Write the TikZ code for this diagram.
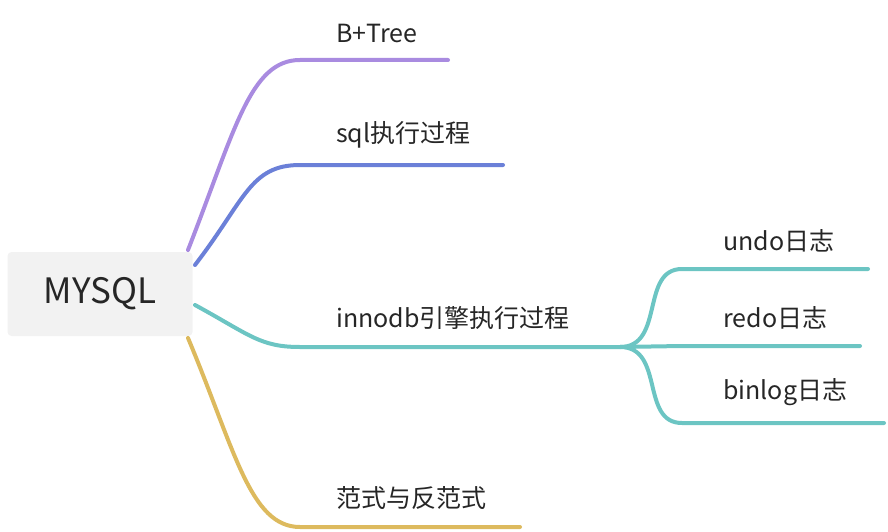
\documentclass[tikz,border=0pt]{standalone}
\usepackage{fontspec}
\setmainfont{Noto Sans CJK SC}
\usetikzlibrary{positioning}
\definecolor{cPurple}{HTML}{A98BE0}
\definecolor{cBlue}{HTML}{6B80D8}
\definecolor{cTeal}{HTML}{6CC5C3}
\definecolor{cGold}{HTML}{DDBA5E}
\tikzset{
  branch/.style={line width=4pt, line cap=round},
  lbl/.style={font=\fontsize{25}{30}\selectfont, text=black!85, anchor=south west, inner sep=0pt}
}
\begin{document}
\begin{tikzpicture}[x=1pt,y=-1pt]
  \useasboundingbox (0,0) rectangle (888,532);
  % root
  \node[fill=black!5, rounded corners=4pt, minimum width=185pt, minimum height=84pt,
        font=\fontsize{35}{40}\selectfont, text=black!85] (root) at (100,294) {MYSQL};
  % branch ends
  \coordinate (p0) at (188,250); \coordinate (p1) at (300,60);  \coordinate (p2) at (448,60);
  \coordinate (b0) at (195,265); \coordinate (b1) at (300,165); \coordinate (b2) at (503,165);
  \coordinate (t0) at (195,305); \coordinate (t1) at (300,347); \coordinate (t2) at (620,347);
  \coordinate (g0) at (188,338); \coordinate (g1) at (300,527); \coordinate (g2) at (520,527);
  \coordinate (u1) at (682,269); \coordinate (u2) at (868,269);
  \coordinate (r1) at (682,346); \coordinate (r2) at (860,346);
  \coordinate (n1) at (682,423); \coordinate (n2) at (884,423);
  % labels
  \node[lbl] (btree) at (336,43) {B+Tree};
  \node[lbl] (sql) at (336,148) {sql执行过程};
  \node[lbl] (inno) at (336,330) {innodb引擎执行过程};
  \node[lbl] (fanshi) at (336,510) {范式与反范式};
  \node[lbl] (undo) at (723,252) {undo日志};
  \node[lbl] (redo) at (723,329) {redo日志};
  \node[lbl] (binlog) at (723,406) {binlog日志};
  % connectors
  \draw[branch, cPurple] (p0) .. controls (235,130) and (250,60) .. (p1) -- (p2);
  \draw[branch, cBlue] (b0) .. controls (245,200) and (250,165) .. (b1) -- (b2);
  \draw[branch, cTeal] (t0) .. controls (250,335) and (260,347) .. (t1) -- (t2);
  \draw[branch, cGold] (g0) .. controls (235,450) and (250,527) .. (g1) -- (g2);
  \draw[branch, cTeal] (t2) .. controls (665,347) and (640,269) .. (u1) -- (u2);
  \draw[branch, cTeal] (t2) -- (r1) -- (r2);
  \draw[branch, cTeal] (t2) .. controls (665,347) and (640,423) .. (n1) -- (n2);
\end{tikzpicture}
\end{document}
